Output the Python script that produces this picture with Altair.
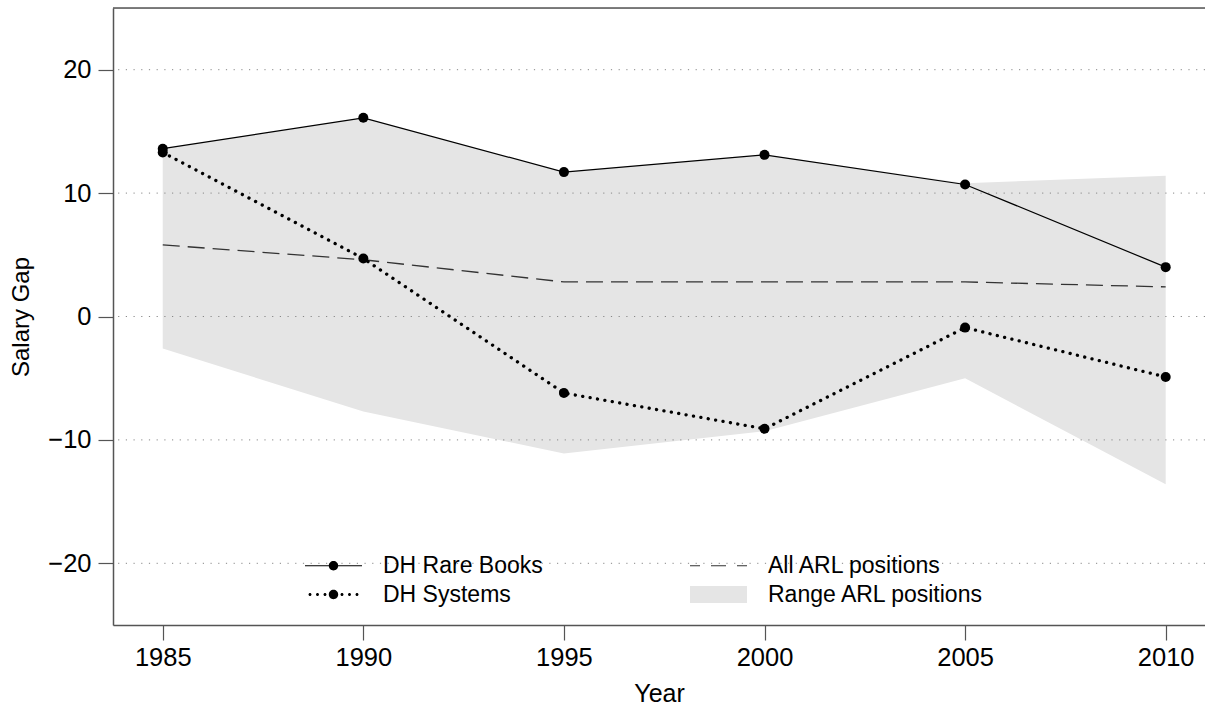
import altair as alt
import pandas as pd

# ---- data ----
years = [1985, 1990, 1995, 2000, 2005, 2010]
rare_books = [13.6, 16.1, 11.7, 13.1, 10.7, 4.0]
systems = [13.3, 4.7, -6.2, -9.1, -0.9, -4.9]
all_arl = [5.8, 4.6, 2.8, 2.8, 2.8, 2.4]
range_low = [-2.6, -7.7, -11.1, -9.3, -5.0, -13.6]
range_high = [13.6, 16.1, 11.7, 13.1, 10.8, 11.4]

series_names = ["DH Rare Books", "DH Systems", "All ARL positions", "Range ARL positions"]
x_ticks = [1985, 1990, 1995, 2000, 2005, 2010]
y_ticks = [-20, -10, 0, 10, 20]
y_limits = [-25, 25]
x_limits = [1983.76, 2010.98]

FONT = "Liberation Sans"

wide = pd.DataFrame({"year": years, "rb": rare_books, "sys": systems,
                     "arl": all_arl, "low": range_low, "high": range_high})
long = pd.DataFrame({
    "year": years * 4,
    "value": rare_books + systems + all_arl + range_high,
    "series": [s for s in series_names for _ in years],
})
pts = long[long["series"].isin(["DH Rare Books", "DH Systems"])]

# ---- legend symbol shapes (custom SVG paths in symbol units) ----
def circ(cx, r):
    return f"M{cx - r},0a{r},{r} 0 1,1 {2 * r},0a{r},{r} 0 1,1 {-2 * r},0Z"

def rect(x0, x1, h):
    return f"M{x0},{-h}H{x1}V{h}H{x0}Z"

shape_rb = rect(-2.85, 2.85, 0.06) + circ(0, 0.47)
shape_arl = rect(-2.85, -1.85, 0.06) + rect(-0.75, 0.75, 0.06) + rect(1.85, 2.85, 0.06)
shape_sys = "".join(circ(c, 0.15) for c in [-2.35, -1.6, -0.85, 0.85, 1.6, 2.35]) + circ(0, 0.47)
shape_rng = rect(-2.85, 2.85, 0.85)

xs = alt.Scale(domain=x_limits, nice=False, zero=False)
ys = alt.Scale(domain=y_limits, nice=False, zero=False)

x_axis = alt.Axis(orient="bottom", values=x_ticks, format="d", tickSize=15,
                  tickColor="#555", tickWidth=1.2, labelFontSize=25.5, labelFont=FONT,
                  labelColor="black", labelPadding=5, labelFlush=False,
                  title="Year", titleFontSize=25, titleFont=FONT, titleFontWeight="normal",
                  titleColor="black", titlePadding=11, grid=False, domain=True,
                  domainColor="#555", domainWidth=1.5)
y_axis = alt.Axis(orient="left", values=y_ticks, tickSize=15, tickColor="#555", tickWidth=1.2,
                  labelFontSize=25.5, labelFont=FONT, labelColor="black", labelPadding=7,
                  title="Salary Gap", titleFontSize=24, titleFont=FONT,
                  titleFontWeight="normal", titleColor="black", titlePadding=14,
                  grid=False, domain=True, domainColor="#555", domainWidth=1.5)

def X(field):
    return alt.X(field, scale=xs, axis=x_axis)

def Y(field):
    return alt.Y(field, scale=ys, axis=y_axis)

base = alt.Chart(wide)

area = base.mark_area(color="#e5e5e5", opacity=1).encode(
    x=X("year:Q"), y=Y("low:Q"), y2="high:Q",
)

# dotted horizontal grid at the y ticks, above the grey band
grid_df = pd.DataFrame({"v": y_ticks})
grid_over = alt.Chart(grid_df).mark_rule(color="#888", strokeWidth=1,
                                         strokeDash=[1.2, 6.5]).encode(y=Y("v:Q"))

arl_line = base.mark_line(color="#333", strokeDash=[17, 8], strokeWidth=1.3).encode(
    x=X("year:Q"), y=Y("arl:Q"))
rb_line = base.mark_line(color="black", strokeWidth=1.2).encode(
    x=X("year:Q"), y=Y("rb:Q"))
sys_line = base.mark_line(color="black", strokeDash=[0.1, 7.4], strokeCap="round",
                          strokeWidth=3.3).encode(x=X("year:Q"), y=Y("sys:Q"))
points = alt.Chart(pts).mark_circle(color="black", size=100, opacity=1).encode(
    x=X("year:Q"), y=Y("value:Q"))

# top edge of the frame, at the upper limit of the y scale
top_df = pd.DataFrame({"v": [y_limits[1]]})
top_frame = alt.Chart(top_df).mark_rule(color="#555", strokeWidth=1.5).encode(y=Y("v:Q"))

legend = alt.Legend(orient="none", legendX=209, legendY=546, columns=2, title=None,
                    labelFontSize=23, labelFont=FONT, labelColor="black", symbolSize=400,
                    symbolStrokeWidth=0, symbolOpacity=1, labelOffset=38, columnPadding=147,
                    rowPadding=5, padding=0, labelLimit=500)

legend_layer = alt.Chart(long).mark_point(filled=True, opacity=0).encode(
    x=X("year:Q"), y=Y("value:Q"),
    color=alt.Color("series:N", legend=legend,
                    scale=alt.Scale(domain=series_names,
                                    range=["black", "black", "#333", "#e5e5e5"])),
    shape=alt.Shape("series:N", legend=legend,
                    scale=alt.Scale(domain=series_names,
                                    range=[shape_rb, shape_sys, shape_arl, shape_rng])),
)

chart = alt.layer(area, grid_over, arl_line, rb_line, sys_line, points, top_frame,
                  legend_layer).properties(
    width=1092, height=617,
    padding={"left": 113, "top": 8, "right": 0, "bottom": 82},
    autosize=alt.AutoSizeParams(type="none"),
).configure_view(stroke=None).configure(background="white")

chart.save("out.html", embed_options={"renderer": "svg", "actions": False})
